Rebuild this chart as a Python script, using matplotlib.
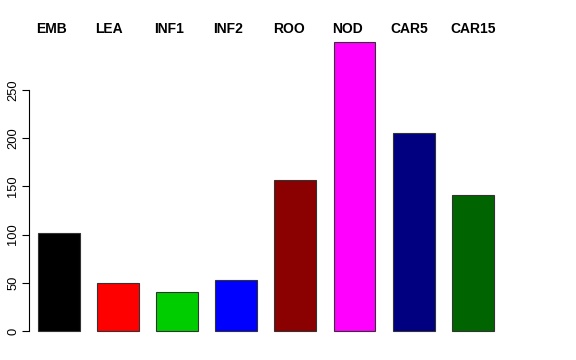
import matplotlib
matplotlib.use("Agg")
import matplotlib.pyplot as plt

plt.rcParams['font.family'] = ['Liberation Sans', 'DejaVu Sans']

tissues = ['EMB', 'LEA', 'INF1', 'INF2', 'ROO', 'NOD', 'CAR5', 'CAR15']
counts = [102, 50, 40, 53, 156, 299, 205, 141]
colors = ['#000000', '#FF0000', '#00CD00', '#0000FF', '#8B0000', '#FF00FF', '#000080', '#006400']

fig = plt.figure(figsize=(5.76, 3.6), dpi=100)
ax = fig.add_axes([29 / 576, 0.0483, (540 - 29) / 576, 0.866])

width = 0.71
xs = list(range(len(tissues)))
ax.bar(xs, counts, width=width, color=colors, edgecolor='#333333', linewidth=0.8)

ax.set_xlim(-0.508, (540 - 59) / 59.1)
ax.set_ylim(-12, 311)

for x, name in zip(xs, tissues):
    ax.text(x - width / 2 - 0.03, 313, name, ha='left', va='center',
            fontsize=10, fontweight='bold', clip_on=False)

ax.set_yticks([0, 50, 100, 150, 200, 250])
ax.set_yticklabels(['0', '50', '100', '150', '200', '250'], rotation=90, va='center', fontsize=9.3)
ax.tick_params(axis='y', length=5, width=0.8, pad=2)
ax.set_xticks([])
for s in ['top', 'right', 'bottom']:
    ax.spines[s].set_visible(False)
ax.spines['left'].set_bounds(0, 250)
ax.spines['left'].set_linewidth(0.8)

fig.savefig('out.png', dpi=100)
